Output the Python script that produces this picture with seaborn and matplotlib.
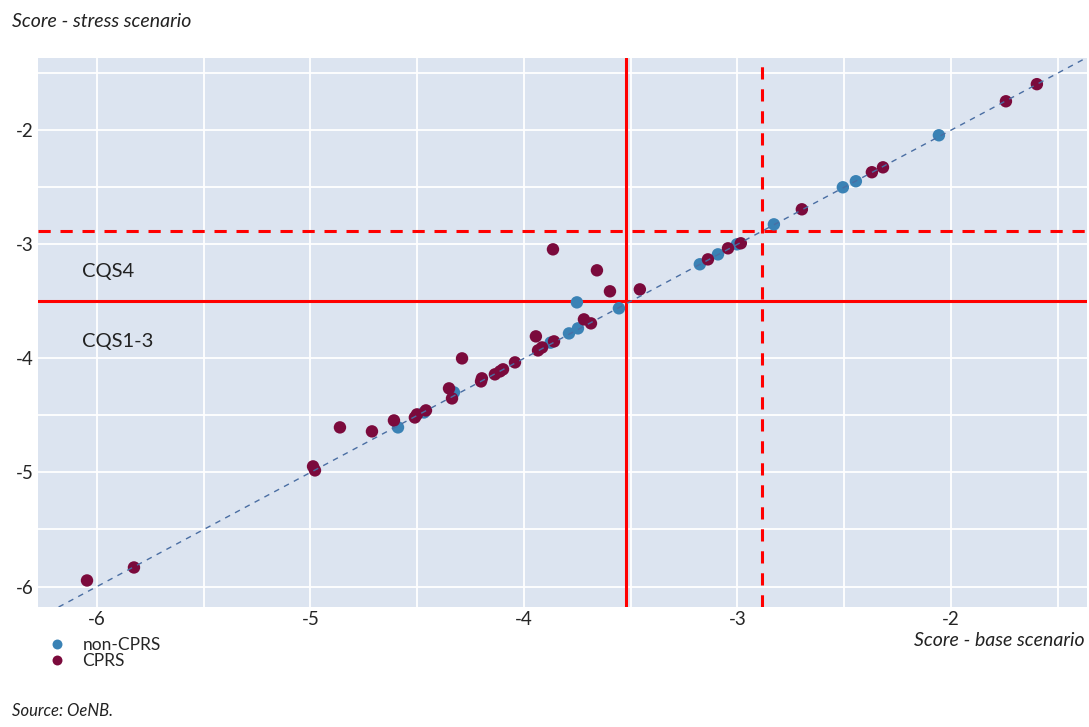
import numpy as np
import pandas as pd
import matplotlib
matplotlib.use("Agg")
import matplotlib.pyplot as plt
import seaborn as sns

# Scores (base scenario, stress scenario)
cprs_base = [-6.047, -5.827, -4.988, -4.979, -4.862, -4.712, -4.609, -4.511, -4.501,
             -4.459, -4.351, -4.337, -4.290, -4.201, -4.197, -4.136, -4.112, -4.098,
             -4.042, -3.944, -3.934, -3.915, -3.859, -3.864, -3.658, -3.597, -3.457,
             -3.719, -3.686, -3.138, -3.044, -2.984, -2.698, -2.370, -2.318, -1.742,
             -1.597]
cprs_stress = [-5.947, -5.833, -4.947, -4.982, -4.605, -4.640, -4.544, -4.518, -4.491,
               -4.456, -4.263, -4.351, -4.000, -4.202, -4.175, -4.140, -4.114, -4.096,
               -4.035, -3.807, -3.930, -3.904, -3.851, -3.044, -3.228, -3.412, -3.395,
               -3.658, -3.693, -3.132, -3.035, -2.991, -2.693, -2.368, -2.325, -1.746,
               -1.596]
noncprs_base = [-4.590, -4.468, -4.328, -3.875, -3.789, -3.747, -3.752, -3.555, -3.176,
                -3.091, -3.002, -2.829, -2.506, -2.445, -2.056]
noncprs_stress = [-4.605, -4.474, -4.298, -3.862, -3.781, -3.737, -3.509, -3.561, -3.175,
                  -3.088, -3.000, -2.825, -2.500, -2.447, -2.044]

groups = ["non-CPRS", "CPRS"]
cqs_threshold_x = -3.52
cqs_threshold_y = -3.50
cqs_threshold_dashed = -2.885

df = pd.DataFrame({
    "base": noncprs_base + cprs_base,
    "stress": noncprs_stress + cprs_stress,
    "group": [groups[0]] * len(noncprs_base) + [groups[1]] * len(cprs_base),
})

sns.set_style("darkgrid", {"axes.facecolor": "#dce4f0", "grid.color": "white"})
plt.rcParams["font.family"] = ["Lato", "DejaVu Sans"]

fig = plt.figure(figsize=(10.89, 7.27), dpi=100)
ax = fig.add_axes([0.035, 0.165, 0.963, 0.755])

# threshold lines
ax.axvline(cqs_threshold_x, color="#ff0000", lw=2.2, zorder=1)
ax.axhline(cqs_threshold_y, color="#ff0000", lw=2.2, zorder=1)
ax.axvline(cqs_threshold_dashed, color="#ff0000", lw=2.2, ls=(0, (4, 3.2)), zorder=1)
ax.axhline(cqs_threshold_dashed, color="#ff0000", lw=2.2, ls=(0, (4, 3.2)), zorder=1)

sns.scatterplot(data=df, x="base", y="stress", hue="group", hue_order=groups,
                palette={"non-CPRS": "#3a82b5", "CPRS": "#7b0a3c"},
                s=80, edgecolor="none", ax=ax, zorder=3)

# 45 degree line
ax.axline((-4, -4), slope=1, color="#4a6ea3", lw=1, ls=(0, (4, 4)), zorder=4)

ax.set_xlim(-6.276, -1.363)
ax.set_ylim(-6.18, -1.368)
ax.set_xticks([-6, -5, -4, -3, -2])
ax.set_yticks([-6, -5, -4, -3, -2])
ax.set_xticks(np.arange(-6, -1.4, 0.5), minor=True)
ax.set_yticks(np.arange(-6, -1.4, 0.5), minor=True)
ax.grid(which="both", color="white", lw=1.3)
ax.tick_params(which="both", length=0, labelsize=13.5, pad=3)
ax.set_xticklabels(["-6", "-5", "-4", "-3", "-2"])
ax.set_yticklabels(["-6", "-5", "-4", "-3", "-2"])
ax.set_xlabel("")
ax.set_ylabel("")
for sp in ax.spines.values():
    sp.set_visible(False)

ax.text(-6.07, -3.24, "CQS4", fontsize=14.5, va="center", color="#222222")
ax.text(-6.07, -3.85, "CQS1-3", fontsize=14.5, va="center", color="#222222")

fig.text(0.011, 0.970, "Score - stress scenario", fontsize=14, style="italic",
         va="center", color="#222222")
fig.text(0.996, 0.119, "Score - base scenario", fontsize=14, style="italic",
         va="center", ha="right", color="#222222")
fig.text(0.011, 0.022, "Source: OeNB.", fontsize=12, style="italic",
         va="center", color="#222222")

leg = ax.legend(loc="upper left", bbox_to_anchor=(0.028, 0.136),
                bbox_transform=fig.transFigure, frameon=False, fontsize=12.5,
                handletextpad=0.5, labelspacing=0.0, borderpad=0,
                markerscale=0.8)

fig.savefig("out.png", dpi=100)
